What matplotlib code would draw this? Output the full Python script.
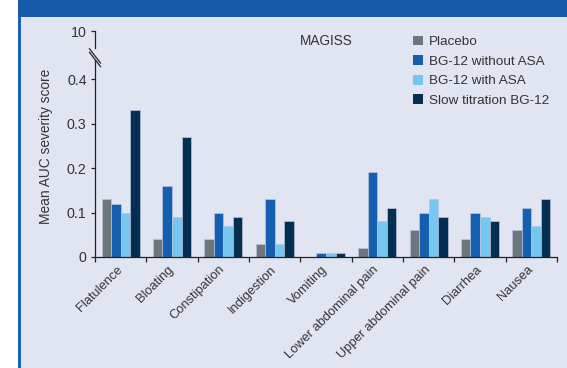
import matplotlib.pyplot as plt
from matplotlib.patches import Rectangle
from matplotlib.transforms import ScaledTranslation
import numpy as np

# ── Données ──
categories = ["Flatulence", "Bloating", "Constipation", "Indigestion", "Vomiting",
              "Lower abdominal pain", "Upper abdominal pain", "Diarrhea", "Nausea"]
placebo      = [0.13, 0.04, 0.04, 0.03, 0.00, 0.02, 0.06, 0.04, 0.06]
bg12_no_asa  = [0.12, 0.16, 0.10, 0.13, 0.01, 0.19, 0.10, 0.10, 0.11]
bg12_asa     = [0.10, 0.09, 0.07, 0.03, 0.01, 0.08, 0.13, 0.09, 0.07]
bg12_slow    = [0.33, 0.27, 0.09, 0.08, 0.01, 0.11, 0.09, 0.08, 0.13]
series_names = ["Placebo", "BG-12 without ASA", "BG-12 with ASA", "Slow titration BG-12"]
y_ticks      = [0, 0.1, 0.2, 0.3, 0.4]
y_top_label  = "10"

colors = ["#6d767b", "#145fb0", "#76c7ef", "#052f52"]
bg = "#e1e5f1"
txt = "#333333"

plt.rcParams["font.family"] = ["Liberation Sans", "DejaVu Sans"]

W, H = 567, 368
fig = plt.figure(figsize=(W / 100, H / 100), dpi=100)
fig.patch.set_facecolor("white")

# ── Cadre : bandeau bleu, panneau lavande, filet gauche ──
fig.patches.append(Rectangle((21 / W, 0), 1 - 21 / W, 1 - 17 / H, transform=fig.transFigure,
                             facecolor=bg, edgecolor="none", zorder=-3))
fig.patches.append(Rectangle((18 / W, 1 - 17 / H), 1 - 18 / W, 17 / H, transform=fig.transFigure,
                             facecolor="#155baa", edgecolor="none", zorder=-2))
fig.patches.append(Rectangle((18 / W, 0), 3 / W, 1 - 17 / H, transform=fig.transFigure,
                             facecolor="#1f62b3", edgecolor="none", zorder=-2))

ax = fig.add_axes([95 / W, 1 - 257 / H, (557 - 95) / W, (257 - 31) / H])
ax.set_facecolor("none")

y_max = 0.508
x = np.arange(len(categories))
w = 0.186
all_series = [placebo, bg12_no_asa, bg12_asa, bg12_slow]
for i, (vals, name) in enumerate(zip(all_series, series_names)):
    ax.bar(x + (i - 1.5) * w, vals, w, color=colors[i], label=name,
           edgecolor="#b9c4dc", linewidth=0.5)

ax.set_xlim(-0.5, len(categories) - 0.5)
ax.set_ylim(0, y_max)

# ── Axes ──
for s in ["top", "right", "left"]:
    ax.spines[s].set_visible(False)
ax.spines["bottom"].set_color("#222222")
ax.spines["bottom"].set_linewidth(0.9)

ax.set_yticks(y_ticks + [y_max])
ax.set_yticklabels(["0", "0.1", "0.2", "0.3", "0.4", y_top_label])
ax.tick_params(axis="y", direction="out", length=3, width=0.9, color="#222222",
               labelsize=10.3, labelcolor=txt, pad=3)

ax.set_xticks(np.arange(-0.5, len(categories)), minor=False)
ax.set_xticklabels([])
ax.set_xticks(x, minor=True)
ax.set_xticklabels(categories, minor=True, rotation=45, ha="right",
                   rotation_mode="anchor", fontsize=9.3, color=txt)
ax.tick_params(axis="x", which="major", direction="out", length=3.5, width=0.9, color="#222222")
ax.tick_params(axis="x", which="minor", length=0, pad=4.5)
shift = ScaledTranslation(-0.045, 0, fig.dpi_scale_trans)
for lab in ax.get_xticklabels(minor=True):
    lab.set_transform(lab.get_transform() + shift)

# axe Y coupé
yt = ax.get_yaxis_transform()
ax.plot([0, 0], [0, 0.442], color="#222222", lw=0.9, transform=yt, clip_on=False)
ax.plot([0, 0], [0.470, y_max], color="#222222", lw=0.9, transform=yt, clip_on=False)
dx = 5.5 / 462
for off in [0, 0.008]:
    ax.plot([-dx, dx], [0.468 - off, 0.436 - off], color="#222222", lw=0.9,
            transform=yt, clip_on=False)

ax.set_ylabel("Mean AUC severity score", fontsize=9.9, color=txt)
ax.yaxis.set_label_coords(-0.09, 0.49)

# ── Légende ──
ax.text(300 / W, 1 - 40.7 / H, "MAGISS", transform=fig.transFigure, fontsize=9.8,
        color=txt, va="center", ha="left")
leg = ax.legend(loc="upper left", bbox_to_anchor=(409 / W, 1 - 31.5 / H),
                bbox_transform=fig.transFigure, frameon=False, fontsize=9.7,
                handlelength=0.75, handleheight=0.75, handletextpad=0.45,
                labelspacing=0.52, borderpad=0.3, borderaxespad=0)
for t in leg.get_texts():
    t.set_color(txt)
for h in leg.legend_handles:
    h.set_edgecolor("none")

fig.savefig("out.png", dpi=100)
